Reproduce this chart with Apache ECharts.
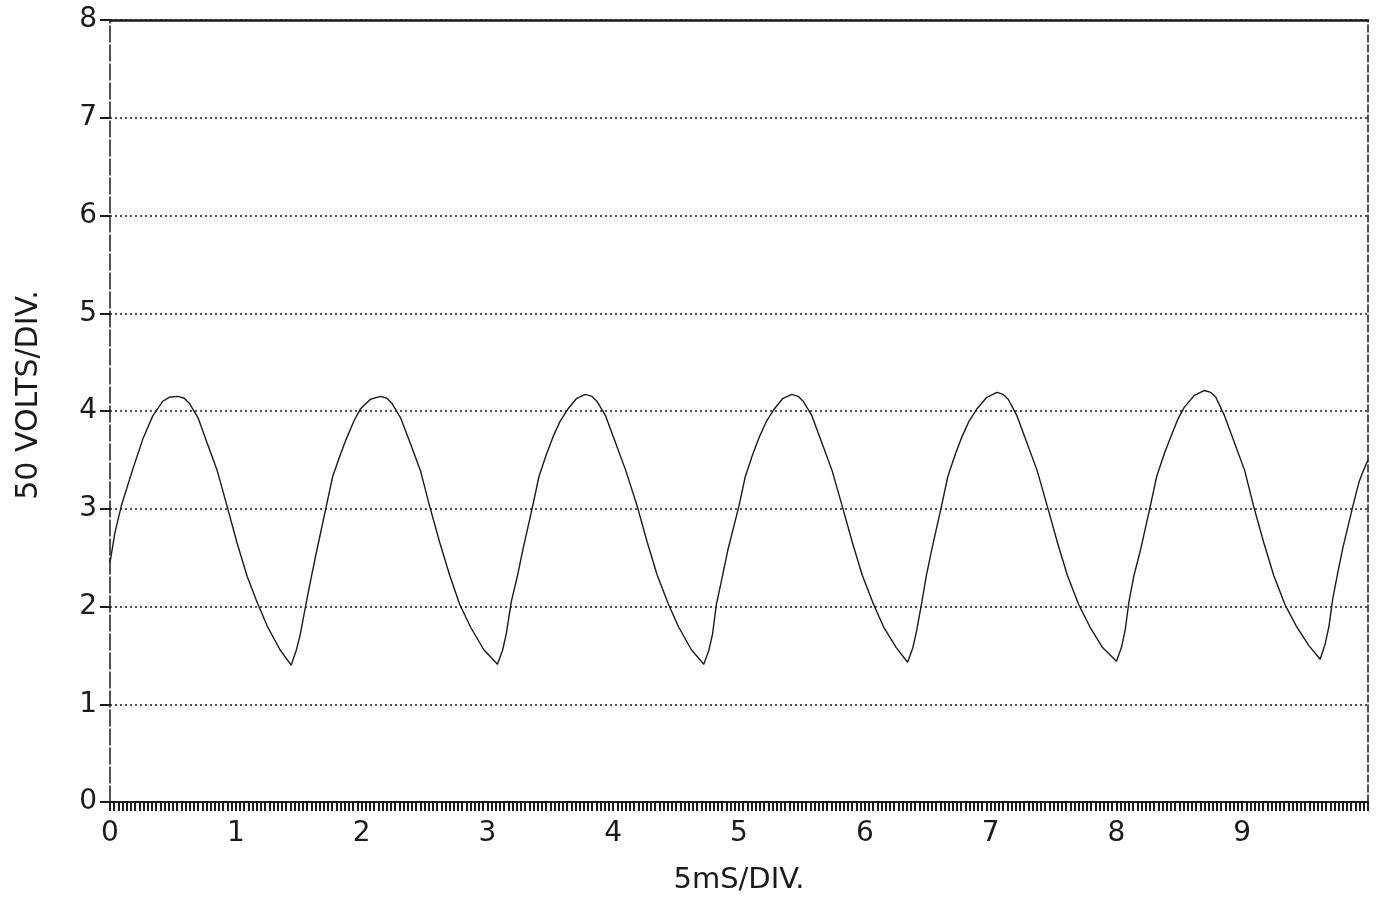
<!DOCTYPE html>
<html>
<head>
<meta charset="utf-8">
<title>Waveform - 5mS/DIV</title>
<script src="https://cdn.jsdelivr.net/npm/echarts@6/dist/echarts.min.js"></script>
<style>
    html,body{margin:0;padding:0;background:#fff;}
    #scope{width:1377px;height:899px;}
</style>
</head>
<body>
<div id="scope"></div>
<script>
// 时间 (div)
var timeDiv = [
    0, 0.04, 0.09, 0.18, 0.26, 0.34, 0.42, 0.47, 0.54,
    0.59, 0.63, 0.70, 0.77, 0.85, 0.93, 1.01, 1.09, 1.17, 1.25, 1.35, 1.44,
    1.48, 1.51, 1.56, 1.60, 1.64, 1.72, 1.77, 1.83, 1.88, 1.94, 1.99, 2.07, 2.15,
    2.20, 2.24, 2.31, 2.39, 2.47, 2.54, 2.62, 2.70, 2.78, 2.87, 2.97, 3.08,
    3.12, 3.15, 3.19, 3.24, 3.28, 3.36, 3.41, 3.47, 3.52, 3.58, 3.64, 3.71, 3.78,
    3.83, 3.87, 3.94, 4.02, 4.10, 4.19, 4.27, 4.35, 4.44, 4.52, 4.62, 4.72,
    4.76, 4.79, 4.82, 4.87, 4.91, 5.00, 5.05, 5.11, 5.16, 5.22, 5.28, 5.35, 5.42,
    5.47, 5.51, 5.58, 5.66, 5.74, 5.82, 5.90, 5.98, 6.07, 6.15, 6.25, 6.34,
    6.38, 6.41, 6.45, 6.49, 6.53, 6.61, 6.66, 6.72, 6.77, 6.83, 6.89, 6.97, 7.05,
    7.10, 7.14, 7.21, 7.29, 7.37, 7.45, 7.53, 7.61, 7.70, 7.79, 7.89, 8.00,
    8.04, 8.07, 8.10, 8.14, 8.19, 8.27, 8.32, 8.38, 8.43, 8.49, 8.54, 8.62, 8.70,
    8.75, 8.79, 8.86, 8.94, 9.02, 9.09, 9.17, 9.25, 9.34, 9.43, 9.53, 9.62,
    9.66, 9.69, 9.72, 9.76, 9.80, 9.88, 9.93, 9.96, 10.0
];

// 电压 (div)
var voltsDiv = [
    2.45, 2.76, 3.03, 3.40, 3.71, 3.95, 4.10, 4.14, 4.15,
    4.13, 4.08, 3.93, 3.68, 3.40, 3.03, 2.65, 2.31, 2.04, 1.80, 1.56, 1.40,
    1.55, 1.70, 2.04, 2.30, 2.55, 3.03, 3.33, 3.55, 3.72, 3.90, 4.02, 4.12, 4.15,
    4.13, 4.08, 3.93, 3.66, 3.38, 3.03, 2.66, 2.32, 2.02, 1.78, 1.56, 1.41,
    1.55, 1.72, 2.05, 2.32, 2.57, 3.03, 3.33, 3.56, 3.73, 3.90, 4.02, 4.13, 4.17,
    4.15, 4.10, 3.95, 3.67, 3.39, 3.03, 2.66, 2.32, 2.02, 1.79, 1.56, 1.41,
    1.55, 1.72, 2.02, 2.32, 2.57, 3.03, 3.33, 3.56, 3.73, 3.90, 4.02, 4.13, 4.17,
    4.15, 4.10, 3.95, 3.67, 3.39, 3.03, 2.66, 2.32, 2.02, 1.79, 1.58, 1.43,
    1.57, 1.74, 2.02, 2.32, 2.57, 3.03, 3.33, 3.56, 3.73, 3.90, 4.02, 4.14, 4.19,
    4.17, 4.12, 3.95, 3.67, 3.39, 3.03, 2.66, 2.32, 2.02, 1.79, 1.58, 1.44,
    1.58, 1.76, 2.05, 2.32, 2.57, 3.03, 3.33, 3.56, 3.73, 3.92, 4.04, 4.16, 4.21,
    4.19, 4.14, 3.95, 3.67, 3.39, 3.03, 2.66, 2.32, 2.02, 1.80, 1.60, 1.46,
    1.62, 1.80, 2.08, 2.35, 2.60, 3.03, 3.28, 3.38, 3.50
];

var xTickLabels = ['0','1','2','3','4','5','6','7','8','9'];
var yTickLabels = ['0','1','2','3','4','5','6','7','8'];

var ink = '#1a1a1a',
    font = 'DejaVu Sans';

// 组装数据点
var buildTrace = function(){
    var pts = [];
    for (var i = 0; i < timeDiv.length; i++) {
        pts.push([timeDiv[i], voltsDiv[i]]);
    }
    return pts;
};

var getOption = function(){
    return {
        animation: false,
        backgroundColor: '#fff',
        grid: {left:110, right:9, top:20, bottom:97, outerBoundsMode:'none'},
        xAxis: [
            {
                type: 'value',
                min: 0, max: 10, interval: 1,
                name: '5mS/DIV.',
                nameLocation: 'middle',
                nameGap: 64,
                nameTextStyle: {fontFamily:font, fontSize:29, color:ink},
                axisLine: {show:true, onZero:false, lineStyle:{color:ink, width:2}},
                axisTick: {show:true, inside:false, length:9, lineStyle:{color:ink, width:2}},
                minorTick: {show:true, splitNumber:30, length:9, lineStyle:{color:ink, width:2}},
                axisLabel: {
                    margin: 18,
                    fontFamily: font, fontSize: 28, color: ink,
                    formatter: function(v){ return xTickLabels[v] || ''; }
                },
                splitLine: {show:false}
            },
            {
                // 顶部边框
                type: 'value', position: 'top',
                min: 0, max: 10,
                axisLine: {show:true, onZero:false, lineStyle:{color:ink, width:2.5}},
                axisTick: {show:false},
                axisLabel: {show:false},
                splitLine: {show:false}
            }
        ],
        yAxis: [
            {
                type: 'value',
                min: 0, max: 8, interval: 1,
                name: '50 VOLTS/DIV.',
                nameLocation: 'middle',
                nameGap: 66,
                nameTextStyle: {fontFamily:font, fontSize:30, color:ink, padding:[0,0,0,32]},
                axisLine: {show:true, onZero:false, lineStyle:{color:ink, width:1.5, type:[16,3]}},
                axisTick: {show:true, inside:false, length:10, lineStyle:{color:ink, width:2}},
                axisLabel: {
                    margin: 13,
                    fontFamily: font, fontSize: 28, color: ink,
                    formatter: function(v){ return yTickLabels[v] || ''; }
                },
                splitLine: {show:true, lineStyle:{color:ink, width:1.5, type:[2,3]}}
            },
            {
                // 右侧虚线边框
                type: 'value', position: 'right',
                min: 0, max: 8,
                axisLine: {show:true, onZero:false, lineStyle:{color:ink, width:1.5, type:[7,3]}},
                axisTick: {show:false},
                axisLabel: {show:false},
                splitLine: {show:false}
            }
        ],
        series: [
            {
                name: 'trace',
                type: 'line',
                xAxisIndex: 0,
                yAxisIndex: 0,
                showSymbol: false,
                smooth: false,
                lineStyle: {color:ink, width:1.4},
                data: buildTrace()
            }
        ]
    };
};

var chart = echarts.init(document.getElementById('scope'), null, {renderer:'canvas'});
chart.setOption(getOption());
</script>
</body>
</html>
